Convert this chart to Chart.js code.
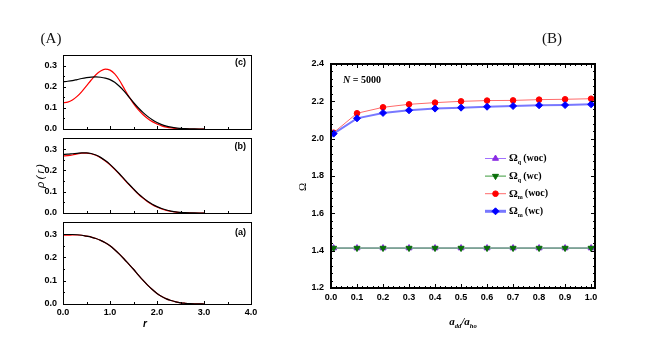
<!DOCTYPE html>
<html><head><meta charset="utf-8">
<script src="https://cdn.jsdelivr.net/npm/chart.js@4.4.1/dist/chart.umd.min.js"></script>
<style>
html,body{margin:0;padding:0;background:#fff;}
#wrap{position:relative;width:671px;height:344px;overflow:hidden;background:#fff;}
canvas{position:absolute;}
.t{position:absolute;white-space:nowrap;line-height:1;color:#000;}
.c{transform:translate(-50%,-50%);}
.rot{transform:translate(-50%,-50%) rotate(-90deg);}
.ml{transform:translate(0,-50%);}
.mr{transform:translate(-100%,-50%);}
sub{font-size:60%;vertical-align:-3px;line-height:0;}
</style>
</head><body>
<div id="wrap">
<canvas id="cc" width="262" height="97" style="left:0;top:44px"></canvas>
<canvas id="cb" width="262" height="98" style="left:0;top:127px"></canvas>
<canvas id="ca" width="262" height="133" style="left:0;top:211px"></canvas>
<canvas id="cB" width="391" height="294" style="left:280px;top:50px"></canvas>

<div class="t c" style="left:51px;top:38px;font:15px 'Liberation Serif',serif;color:#111">(A)</div>
<div class="t c" style="left:552px;top:38px;font:15px 'Liberation Serif',serif;color:#111">(B)</div>
<div class="t rot" style="left:40px;top:176px;font:italic 11px 'Liberation Sans',sans-serif">&rho;&thinsp;(&thinsp;r&thinsp;)</div>
<div class="t c" style="left:145px;top:323px;font:italic bold 10px 'Liberation Sans',sans-serif">r</div>
<div class="t mr" style="left:246px;top:62px;font:bold 9px 'Liberation Sans',sans-serif">(c)</div>
<div class="t mr" style="left:246px;top:146px;font:bold 9px 'Liberation Sans',sans-serif">(b)</div>
<div class="t mr" style="left:246px;top:232px;font:bold 9px 'Liberation Sans',sans-serif">(a)</div>
<div class="t rot" style="left:302px;top:187px;font:11px 'Liberation Serif',serif">&Omega;</div>
<div class="t c" style="left:463px;top:321px;font:italic bold 11px 'Liberation Serif',serif">a<sub>dd</sub>/a<sub>ho</sub></div>
<div class="t ml" style="left:343px;top:79px;font:bold 10px 'Liberation Serif',serif"><i>N</i> = 5000</div>
</div>
<script>
// ---------- Panel A data: density profiles rho(r) ----------
const rVals = [0.0,0.1,0.2,0.3,0.4,0.5,0.6,0.7,0.8,0.9,1.0,1.1,1.2,1.3,1.4,1.5,1.6,1.7,1.8,1.9,2.0,2.1,2.2,2.3,2.4,2.5,2.6,2.7,2.8,2.9,3.0];
const cBlack = [0.225,0.227,0.230,0.235,0.240,0.244,0.247,0.248,0.246,0.242,0.235,0.222,0.203,0.180,0.153,0.126,0.101,0.079,0.060,0.044,0.031,0.021,0.014,0.009,0.005,0.003,0.0015,0.0007,0.0003,0.0001,0.0];
const cRed   = [0.125,0.128,0.138,0.155,0.178,0.205,0.233,0.258,0.276,0.285,0.280,0.262,0.232,0.193,0.155,0.121,0.092,0.069,0.050,0.035,0.024,0.015,0.009,0.005,0.0025,0.001,0.0003,0.0,0.0,0.0,0.0];
const bBlack = [0.275,0.276,0.278,0.280,0.282,0.282,0.279,0.272,0.261,0.246,0.228,0.207,0.184,0.160,0.136,0.113,0.091,0.072,0.055,0.041,0.030,0.021,0.014,0.009,0.005,0.003,0.0015,0.0007,0.0003,0.0001,0.0];
const bRed   = [0.268,0.269,0.272,0.277,0.281,0.281,0.278,0.271,0.259,0.244,0.226,0.205,0.182,0.158,0.134,0.111,0.089,0.070,0.053,0.039,0.028,0.019,0.012,0.007,0.004,0.002,0.001,0.0003,0.0,0.0,0.0];
const aBlack = [0.298,0.298,0.298,0.297,0.295,0.291,0.287,0.281,0.273,0.263,0.250,0.233,0.214,0.193,0.171,0.149,0.125,0.102,0.081,0.062,0.045,0.032,0.022,0.015,0.009,0.005,0.003,0.0015,0.0007,0.0003,0.0001];
const aRed   = [0.295,0.295,0.296,0.296,0.295,0.291,0.287,0.281,0.273,0.263,0.250,0.233,0.214,0.193,0.171,0.149,0.125,0.102,0.081,0.062,0.045,0.032,0.022,0.015,0.009,0.005,0.003,0.0015,0.0007,0.0003,0.0001];
const aYTicks = [0.0,0.1,0.2,0.3];
const aXTicks = [0.0,1.0,2.0,3.0,4.0];

// ---------- Panel B data: frequencies vs a_dd/a_ho ----------
const addRatio  = [0.01,0.1,0.2,0.3,0.4,0.5,0.6,0.7,0.8,0.9,1.0];
const omegaQwoc = [1.414,1.414,1.414,1.414,1.414,1.414,1.414,1.414,1.414,1.414,1.414];
const omegaQwc  = [1.414,1.414,1.414,1.414,1.414,1.414,1.414,1.414,1.414,1.414,1.414];
const omegaMwoc = [2.032,2.136,2.168,2.184,2.193,2.200,2.204,2.205,2.209,2.211,2.214];
const omegaMwc  = [2.027,2.109,2.138,2.152,2.161,2.166,2.171,2.175,2.179,2.180,2.184];
const bXTicks = [0.0,0.1,0.2,0.3,0.4,0.5,0.6,0.7,0.8,0.9,1.0];
const bYTicks = [1.2,1.4,1.6,1.8,2.0,2.2,2.4];
const legendNames = [["q","(woc)"],["q","(wc)"],["m","(woc)"],["m","(wc)"]];

Chart.defaults.font.family = "'Liberation Sans', Arial, sans-serif";
Chart.defaults.font.weight = 'bold';
Chart.defaults.font.size = 9;
Chart.defaults.color = '#000';
Chart.defaults.animation = false;
Chart.defaults.devicePixelRatio = 1;

const pts = (xs, ys) => xs.map((x,i)=>({x:x,y:ys[i]}));
function subdiv(major, n){
  const out=[];
  for(let i=0;i<major.length-1;i++){
    const s=(major[i+1]-major[i])/n;
    for(let k=1;k<n;k++) out.push(major[i]+k*s);
  }
  return out;
}

const frame = {
  id:'frame',
  afterDatasetsDraw(chart, args, o){
    const {ctx, chartArea:a, scales} = chart;
    const x=scales.x, y=scales.y;
    ctx.save();
    ctx.strokeStyle='#000';
    ctx.lineWidth=1;
    const line=(x1,y1,x2,y2)=>{ctx.beginPath();ctx.moveTo(x1,y1);ctx.lineTo(x2,y2);ctx.stroke();};
    const L=Math.round(a.left), R=Math.round(a.right), T=Math.round(a.top), B=Math.round(a.bottom);
    const drawX=(vals,len)=>{vals.forEach(v=>{const p=Math.round(x.getPixelForValue(v))+0.5;
      if(o.sides.includes('b')) line(p,B,p,B-len);
      if(o.sides.includes('t')) line(p,T,p,T+len);});};
    const drawY=(vals,len)=>{vals.forEach(v=>{const p=Math.round(y.getPixelForValue(v))+0.5;
      if(o.sides.includes('l')) line(L,p,L+len,p);
      if(o.sides.includes('r')) line(R,p,R-len,p);});};
    drawX(o.xMajor,o.majLen); drawX(subdiv(o.xMajor,o.xSub),o.minLen);
    drawY(o.yMajor,o.majLen); drawY(subdiv(o.yMajor,o.ySub),o.minLen);
    ctx.lineWidth=o.boxW;
    const h=o.boxW%2?0.5:0;
    ctx.strokeRect(L+h,T+h,R-L,B-T);
    ctx.restore();
  }
};

function panelA(id, canvasTop, canvasH, area, black, red, showX){
  const padTop = area.t - canvasTop;
  const padBottom = showX ? 0 : (canvasTop+canvasH-area.b);
  new Chart(document.getElementById(id), {
    type:'line',
    data:{datasets:[
      {data:pts(rVals,black), borderColor:'#000', borderWidth:1.2, pointRadius:0, cubicInterpolationMode:'monotone', fill:false},
      {data:pts(rVals,red), borderColor:'#ff0000', borderWidth:1.2, pointRadius:0, cubicInterpolationMode:'monotone', fill:false}
    ]},
    options:{
      responsive:false, events:[],
      layout:{padding:{top:padTop,bottom:padBottom,left:0,right:262-area.r}},
      plugins:{legend:{display:false},tooltip:{enabled:false},
        frame:{sides:'lb',xMajor:aXTicks,xSub:2,yMajor:[0,0.1,0.2,0.3],ySub:2,majLen:3,minLen:2,boxW:1}},
      scales:{
        x:{type:'linear',min:0,max:4,display:showX,
           afterBuildTicks:s=>{s.ticks=aXTicks.map(v=>({value:v}));},
           afterFit:s=>{s.height=canvasTop+canvasH-area.b;},
           grid:{display:false,drawTicks:false},border:{display:false},
           ticks:{padding:3,maxRotation:0,callback:v=>v.toFixed(1)}},
        y:{type:'linear',min:0,max:0.35,
           afterBuildTicks:s=>{s.ticks=aYTicks.map(v=>({value:v}));},
           afterFit:s=>{s.width=area.l;},
           grid:{display:false,drawTicks:false},border:{display:false},
           ticks:{padding:6,callback:v=>v.toFixed(1)}}
      }
    },
    plugins:[frame]
  });
}
panelA('cc', 44, 97, {l:63,t:52,r:251,b:135}, cBlack, cRed, false);
panelA('cb', 127, 98, {l:63,t:135,r:251,b:219}, bBlack, bRed, false);
panelA('ca', 211, 133, {l:63,t:219,r:251,b:304}, aBlack, aRed, true);

// ---------- Panel B ----------
const styles = [
  {line:'#a070ff', lw:1, pt:'triangle', rot:0, col:'#8a2be2', r:3.5},
  {line:'#3c9a3c', lw:1, pt:'triangle', rot:180, col:'#0a6e0a', r:3.5},
  {line:'#ff6a6a', lw:1, pt:'circle', rot:0, col:'#ff0000', r:2.8},
  {line:'#7878ff', lw:2, pt:'rectRot', rot:0, col:'#0000ff', r:3.5}
];
const legendPlugin = {
  id:'omLegend',
  afterDraw(chart){
    const ctx=chart.ctx;
    const ox=-280, oy=-50;
    ctx.save();
    for(let i=0;i<4;i++){
      const st=styles[i];
      const yy=158.5+i*17.6+oy;
      ctx.strokeStyle=st.line; ctx.lineWidth=st.lw===2?3:1;
      ctx.beginPath(); ctx.moveTo(485+ox,yy); ctx.lineTo(506+ox,yy); ctx.stroke();
      ctx.lineWidth=1;
      ctx.fillStyle=st.col; ctx.strokeStyle=st.col;
      Chart.helpers.drawPoint(ctx,{pointStyle:st.pt,rotation:st.rot,radius:st.r,borderWidth:1},495.5+ox,yy);
      ctx.fillStyle='#000'; ctx.textBaseline='middle'; ctx.textAlign='left';
      let tx=509+ox;
      ctx.font="bold 11px 'Liberation Serif', serif";
      ctx.fillText('\u03A9',tx,yy); tx+=ctx.measureText('\u03A9').width;
      ctx.font="bold 6px 'Liberation Serif', serif";
      ctx.fillText(legendNames[i][0],tx,yy+4); tx+=ctx.measureText(legendNames[i][0]).width+2;
      ctx.font="bold 10px 'Liberation Serif', serif";
      ctx.fillText(legendNames[i][1],tx,yy);
    }
    ctx.restore();
  }
};
const mk = (ys, st) => ({data:pts(addRatio,ys), borderColor:st.line, borderWidth:st.lw,
  pointStyle:st.pt, rotation:st.rot, pointRadius:st.r, pointBackgroundColor:st.col, pointBorderColor:st.col,
  pointBorderWidth:1, fill:false, tension:0});
new Chart(document.getElementById('cB'), {
  type:'line',
  data:{datasets:[ mk(omegaMwc,styles[3]), mk(omegaMwoc,styles[2]), mk(omegaQwc,styles[1]), mk(omegaQwoc,styles[0]) ]},
  options:{
    responsive:false, events:[],
    layout:{padding:{top:14,bottom:0,left:0,right:76}},
    plugins:{legend:{display:false},tooltip:{enabled:false},
      frame:{sides:'lbtr',xMajor:bXTicks,xSub:5,yMajor:bYTicks,ySub:5,majLen:4,minLen:2,boxW:2}},
    scales:{
      x:{type:'linear',min:0,max:1.015,
         afterBuildTicks:s=>{s.ticks=bXTicks.map(v=>({value:v}));},
         afterFit:s=>{s.height=56;},
         grid:{display:false,drawTicks:false},border:{display:false},
         ticks:{padding:4,maxRotation:0,callback:v=>v.toFixed(1)}},
      y:{type:'linear',min:1.2,max:2.4,
         afterBuildTicks:s=>{s.ticks=bYTicks.map(v=>({value:v}));},
         afterFit:s=>{s.width=51;},
         grid:{display:false,drawTicks:false},border:{display:false},
         ticks:{padding:7,callback:v=>v.toFixed(1)}}
    }
  },
  plugins:[frame, legendPlugin]
});
</script>
</body></html>
